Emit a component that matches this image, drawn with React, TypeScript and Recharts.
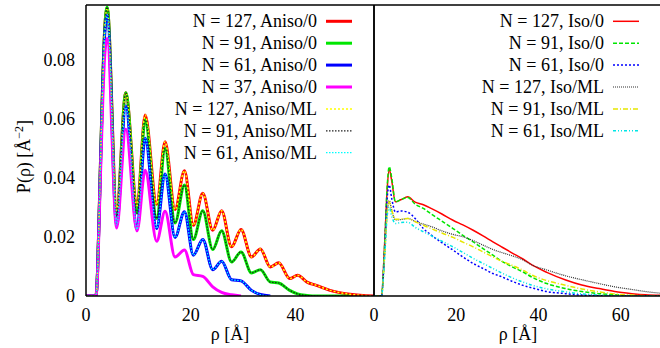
import { LineChart, Line, XAxis, YAxis, Legend } from 'recharts';

// ---- data ----

// left panel: anisotropic
const anisoRho = [0, 1.9, 2.2, 2.6, 3.2, 3.6, 4.05, 5.85, 7.6, 9.75, 11.3, 13.5, 15.1, 17.0, 18.8, 20.5, 22.3, 24.2, 25.9, 27.8, 29.6, 31.6, 33.3, 35.2, 36.8, 38.9, 40.4, 42.2, 44.0, 46.6, 50.4, 55];
const aniso127 = [0, 0, 0.008, 0.034, 0.073, 0.091, 0.0973, 0.029, 0.0687, 0.0305, 0.0611, 0.031, 0.0521, 0.0292, 0.0423, 0.0239, 0.0347, 0.0222, 0.0288, 0.0166, 0.0225, 0.0132, 0.0159, 0.0098, 0.0112, 0.0059, 0.007, 0.0047, 0.0036, 0.0019, 0.0006, 0];
const aniso91 = [0, 0, 0.008, 0.034, 0.073, 0.091, 0.0976, 0.027, 0.0687, 0.028, 0.0595, 0.0262, 0.0499, 0.0247, 0.0375, 0.0191, 0.0288, 0.0157, 0.022, 0.0115, 0.0149, 0.0078, 0.0089, 0.0047, 0.0044, 0.0019, 0.0007, 0.0002, 0, 0, 0, null];
const aniso61 = [0, 0, 0.008, 0.033, 0.071, 0.089, 0.095, 0.024, 0.0642, 0.0225, 0.0533, 0.0228, 0.0412, 0.0198, 0.0285, 0.0138, 0.0191, 0.0089, 0.0117, 0.0055, 0.0051, 0.0019, 0.0005, 0, null, null, null, null, null, null, null, null];
const aniso37 = [0, 0, 0.007, 0.031, 0.066, 0.082, 0.087, 0.023, 0.0563, 0.022, 0.0425, 0.0185, 0.0286, 0.0132, 0.0155, 0.0072, 0.0066, 0.0031, 0.0012, 0.0004, 0, null, null, null, null, null, null, null, null, null, null, null];
// ML curves sit on top of the Aniso/0 ones
const anisoML127 = aniso127;
const anisoML91 = aniso91;
const anisoML61 = aniso61;

// right panel: isotropic
const isoRho = [0, 1.8, 2.6, 3.2, 3.7, 4.3, 5.2, 6.5, 8.2, 10, 12, 14, 16.5, 19.2, 21.6, 24.1, 26.5, 28.9, 31, 33.5, 36.2, 38.5, 42, 46.6, 50.5, 54.7, 58.5, 62.7, 66, 70];
const iso127 = [0, 0, 0.018, 0.036, 0.0428, 0.039, 0.0318, 0.0325, 0.0335, 0.0317, 0.0308, 0.0295, 0.0277, 0.0256, 0.024, 0.0222, 0.0203, 0.0183, 0.0166, 0.0146, 0.0125, 0.0104, 0.008, 0.0054, 0.0037, 0.0025, 0.0015, 0.0008, 0.0004, 0.0002];
const iso91 = [0, 0, 0.018, 0.037, 0.0437, 0.04, 0.0318, 0.0325, 0.0333, 0.031, 0.0296, 0.0276, 0.0253, 0.0228, 0.0205, 0.0183, 0.016, 0.0138, 0.0118, 0.0099, 0.0081, 0.0063, 0.0042, 0.0025, 0.0015, 0.0008, 0.0004, 0.0001, 0, 0];
const iso61 = [0, 0, 0.016, 0.033, 0.0375, 0.033, 0.0284, 0.0287, 0.0283, 0.0262, 0.0228, 0.0205, 0.018, 0.0155, 0.0132, 0.011, 0.0093, 0.0076, 0.0065, 0.005, 0.0036, 0.0027, 0.0015, 0.0008, 0.0003, 0.0001, 0, 0, 0, 0];
const isoML127 = [0, 0, 0.014, 0.028, 0.0322, 0.029, 0.0257, 0.0258, 0.0262, 0.0252, 0.0243, 0.0234, 0.022, 0.0208, 0.02, 0.0187, 0.0172, 0.0157, 0.0147, 0.0136, 0.0122, 0.0104, 0.0088, 0.0068, 0.0055, 0.0042, 0.0031, 0.0022, 0.0015, 0.0009];
const isoML91 = [0, 0, 0.014, 0.028, 0.0318, 0.029, 0.0259, 0.026, 0.0262, 0.0251, 0.0239, 0.0227, 0.0213, 0.0198, 0.0182, 0.0166, 0.0149, 0.0132, 0.0118, 0.0104, 0.0087, 0.007, 0.0052, 0.0036, 0.0024, 0.0014, 0.0007, 0.0003, 0.0001, 0];
const isoML61 = [0, 0, 0.013, 0.027, 0.0301, 0.027, 0.0245, 0.0248, 0.0249, 0.0232, 0.0217, 0.0203, 0.0185, 0.0166, 0.0147, 0.0127, 0.011, 0.0093, 0.0078, 0.0062, 0.0047, 0.0036, 0.0024, 0.0014, 0.0007, 0.0003, 0.0001, 0, 0, 0];

const anisoTicks = [0, 20, 40];
const isoTicks = [0, 20, 40, 60];
const yTicks = [0, 0.02, 0.04, 0.06, 0.08];

// ---- styling ----

const FONT = '"Liberation Serif", "Times New Roman", serif';
const FS = 18;
const Y_DOMAIN = [0, 0.0983];
const PLOT_TOP = 5;
const BOTTOM_H = 52; // plot bottom at y = 296
const RIGHT_PAD = 16; // room left of the right panel for its "0" tick label

const anisoSeries = [
  { key: 'a127', name: 'N = 127, Aniso/0', color: '#ff0000', width: 3 },
  { key: 'a91', name: 'N = 91, Aniso/0', color: '#00e600', width: 3 },
  { key: 'a61', name: 'N = 61, Aniso/0', color: '#0000ff', width: 3 },
  { key: 'a37', name: 'N = 37, Aniso/0', color: '#ff00ff', width: 3 },
  { key: 'm127', name: 'N = 127, Aniso/ML', color: '#ffff00', width: 1.5, dash: '2 2' },
  { key: 'm91', name: 'N = 91, Aniso/ML', color: '#202020', width: 1.2, dash: '1.5 1.5' },
  { key: 'm61', name: 'N = 61, Aniso/ML', color: '#00ffff', width: 1.3, dash: '1.5 1.5' },
];

const isoSeries = [
  { key: 'i127', name: 'N = 127, Iso/0', color: '#ff0000', width: 1.5 },
  { key: 'i91', name: 'N = 91, Iso/0', color: '#00e600', width: 1.5, dash: '4 2' },
  { key: 'i61', name: 'N = 61, Iso/0', color: '#0000ff', width: 1.5, dash: '2 2' },
  { key: 'l127', name: 'N = 127, Iso/ML', color: '#303030', width: 1.2, dash: '1 1' },
  { key: 'l91', name: 'N = 91, Iso/ML', color: '#e6e600', width: 1.5, dash: '5 2 1 2' },
  { key: 'l61', name: 'N = 61, Iso/ML', color: '#00e6e6', width: 1.5, dash: '3 2 1 2 1 2' },
];

const anisoRows = anisoRho.map((rho, i) => ({
  rho,
  a127: aniso127[i],
  a91: aniso91[i],
  a61: aniso61[i],
  a37: aniso37[i],
  m127: anisoML127[i],
  m91: anisoML91[i],
  m61: anisoML61[i],
}));

const isoRows = isoRho.map((rho, i) => ({
  rho,
  i127: iso127[i],
  i91: iso91[i],
  i61: iso61[i],
  l127: isoML127[i],
  l91: isoML91[i],
  l61: isoML61[i],
}));

const tickStyle = { fontFamily: FONT, fontSize: FS, fill: '#000' };
const axisLine = { stroke: '#000', strokeWidth: 1.5 };
const tickLineIn = { stroke: '#000', strokeWidth: 1 };

// legend drawn inside the plot, text right-aligned with the sample to its right
const makeLegend = (series: any[], textRight: number, x1: number, x2: number) => () => (
  <svg width={x2 + 10} height={170} style={{ overflow: 'visible', display: 'block' }}>
    {series.map((s, i) => {
      const cy = 21.3 + i * 21.9;
      return (
        <g key={s.key}>
          <text x={textRight} y={cy + 6} textAnchor="end" fontFamily={FONT} fontSize={FS} fill="#000">
            {s.name}
          </text>
          <line x1={x1} x2={x2} y1={cy} y2={cy} stroke={s.color} strokeWidth={s.width} strokeDasharray={s.dash} />
        </g>
      );
    })}
  </svg>
);

const YTitle = ({ viewBox }: any) => {
  const cx = 30;
  const cy = viewBox ? viewBox.y + viewBox.height / 2 + 6 : 157;
  return (
    <text transform={`translate(${cx},${cy}) rotate(-90)`} textAnchor="middle" fontFamily={FONT} fontSize={FS} fill="#000">
      P(ρ) [Å
      <tspan dy={-7} fontSize={12}>−2</tspan>
      <tspan dy={7}>]</tspan>
    </text>
  );
};

const fmtY = (v: number) => (v === 0 ? '0' : v.toFixed(2));

const App = () => {
  return (
    <div style={{ position: 'absolute', left: 0, top: 0, width: 660, height: 348, overflow: 'hidden', background: '#fff' }}>
      {/* left panel */}
      <div style={{ position: 'absolute', left: 0, top: 0 }}>
        <LineChart width={376} height={348} data={anisoRows} margin={{ top: PLOT_TOP, right: 2, bottom: 0, left: 0 }}>
          <XAxis
            dataKey="rho"
            type="number"
            domain={[0, 55]}
            ticks={anisoTicks}
            interval={0}
            allowDataOverflow
            height={BOTTOM_H}
            axisLine={axisLine}
            tickLine={false}
            tickSize={0}
            tickMargin={12}
            tick={tickStyle}
            label={{ value: 'ρ [Å]', position: 'insideBottom', offset: 8, style: tickStyle }}
          />
          <XAxis xAxisId="in" dataKey="rho" type="number" domain={[0, 55]} ticks={anisoTicks} interval={0} allowDataOverflow mirror axisLine={false} tick={false} tickLine={tickLineIn} tickSize={6} />
          <XAxis xAxisId="top" orientation="top" dataKey="rho" type="number" domain={[0, 55]} ticks={anisoTicks} interval={0} allowDataOverflow mirror axisLine={axisLine} tick={false} tickLine={tickLineIn} tickSize={6} />
          <YAxis
            type="number"
            domain={Y_DOMAIN}
            ticks={yTicks}
            interval={0}
            allowDataOverflow
            width={86}
            axisLine={axisLine}
            tickLine={false}
            tickSize={0}
            tickMargin={11}
            tick={tickStyle}
            tickFormatter={fmtY}
            label={<YTitle />}
          />
          <YAxis yAxisId="in" type="number" domain={Y_DOMAIN} ticks={yTicks} interval={0} allowDataOverflow mirror axisLine={false} tick={false} tickLine={tickLineIn} tickSize={6} />
          <YAxis yAxisId="right" orientation="right" type="number" domain={Y_DOMAIN} ticks={yTicks} interval={0} allowDataOverflow mirror axisLine={axisLine} tick={false} tickLine={tickLineIn} tickSize={6} />
          <Legend
            layout="vertical"
            align="center"
            verticalAlign="middle"
            wrapperStyle={{ top: 0, left: 0, width: 376, height: 170, pointerEvents: 'none' }}
            content={makeLegend(anisoSeries, 317, 326, 352)}
          />
          {anisoSeries.map((s: any) => (
            <Line
              key={s.key}
              type="monotone"
              dataKey={s.key}
              name={s.name}
              stroke={s.color}
              strokeWidth={s.width}
              strokeDasharray={s.dash}
              dot={false}
              activeDot={false}
              isAnimationActive={false}
            />
          ))}
        </LineChart>
      </div>

      {/* right panel */}
      <div style={{ position: 'absolute', left: 374 - RIGHT_PAD, top: 0 }}>
        <LineChart width={RIGHT_PAD + 290} height={348} data={isoRows} margin={{ top: PLOT_TOP, right: 2, bottom: 0, left: RIGHT_PAD }}>
          <XAxis
            dataKey="rho"
            type="number"
            domain={[0, 70]}
            ticks={isoTicks}
            interval={0}
            allowDataOverflow
            height={BOTTOM_H}
            axisLine={axisLine}
            tickLine={false}
            tickSize={0}
            tickMargin={12}
            tick={tickStyle}
            label={{ value: 'ρ [Å]', position: 'insideBottom', offset: 8, style: tickStyle }}
          />
          <XAxis xAxisId="in" dataKey="rho" type="number" domain={[0, 70]} ticks={isoTicks} interval={0} allowDataOverflow mirror axisLine={false} tick={false} tickLine={tickLineIn} tickSize={6} />
          <XAxis xAxisId="top" orientation="top" dataKey="rho" type="number" domain={[0, 70]} ticks={isoTicks} interval={0} allowDataOverflow mirror axisLine={axisLine} tick={false} tickLine={tickLineIn} tickSize={6} />
          <YAxis type="number" domain={Y_DOMAIN} ticks={yTicks} interval={0} allowDataOverflow mirror axisLine={axisLine} tick={false} tickLine={tickLineIn} tickSize={6} />
          <YAxis yAxisId="right" orientation="right" type="number" domain={Y_DOMAIN} ticks={yTicks} interval={0} allowDataOverflow mirror axisLine={axisLine} tick={false} tickLine={tickLineIn} tickSize={6} />
          <Legend
            layout="vertical"
            align="center"
            verticalAlign="middle"
            wrapperStyle={{ top: 0, left: 0, width: RIGHT_PAD + 290, height: 170, pointerEvents: 'none' }}
            content={makeLegend(isoSeries, RIGHT_PAD + 230, RIGHT_PAD + 239, RIGHT_PAD + 265)}
          />
          {isoSeries.map((s: any) => (
            <Line
              key={s.key}
              type="monotone"
              dataKey={s.key}
              name={s.name}
              stroke={s.color}
              strokeWidth={s.width}
              strokeDasharray={s.dash}
              dot={false}
              activeDot={false}
              isAnimationActive={false}
            />
          ))}
        </LineChart>
      </div>
    </div>
  );
};

export default App;
